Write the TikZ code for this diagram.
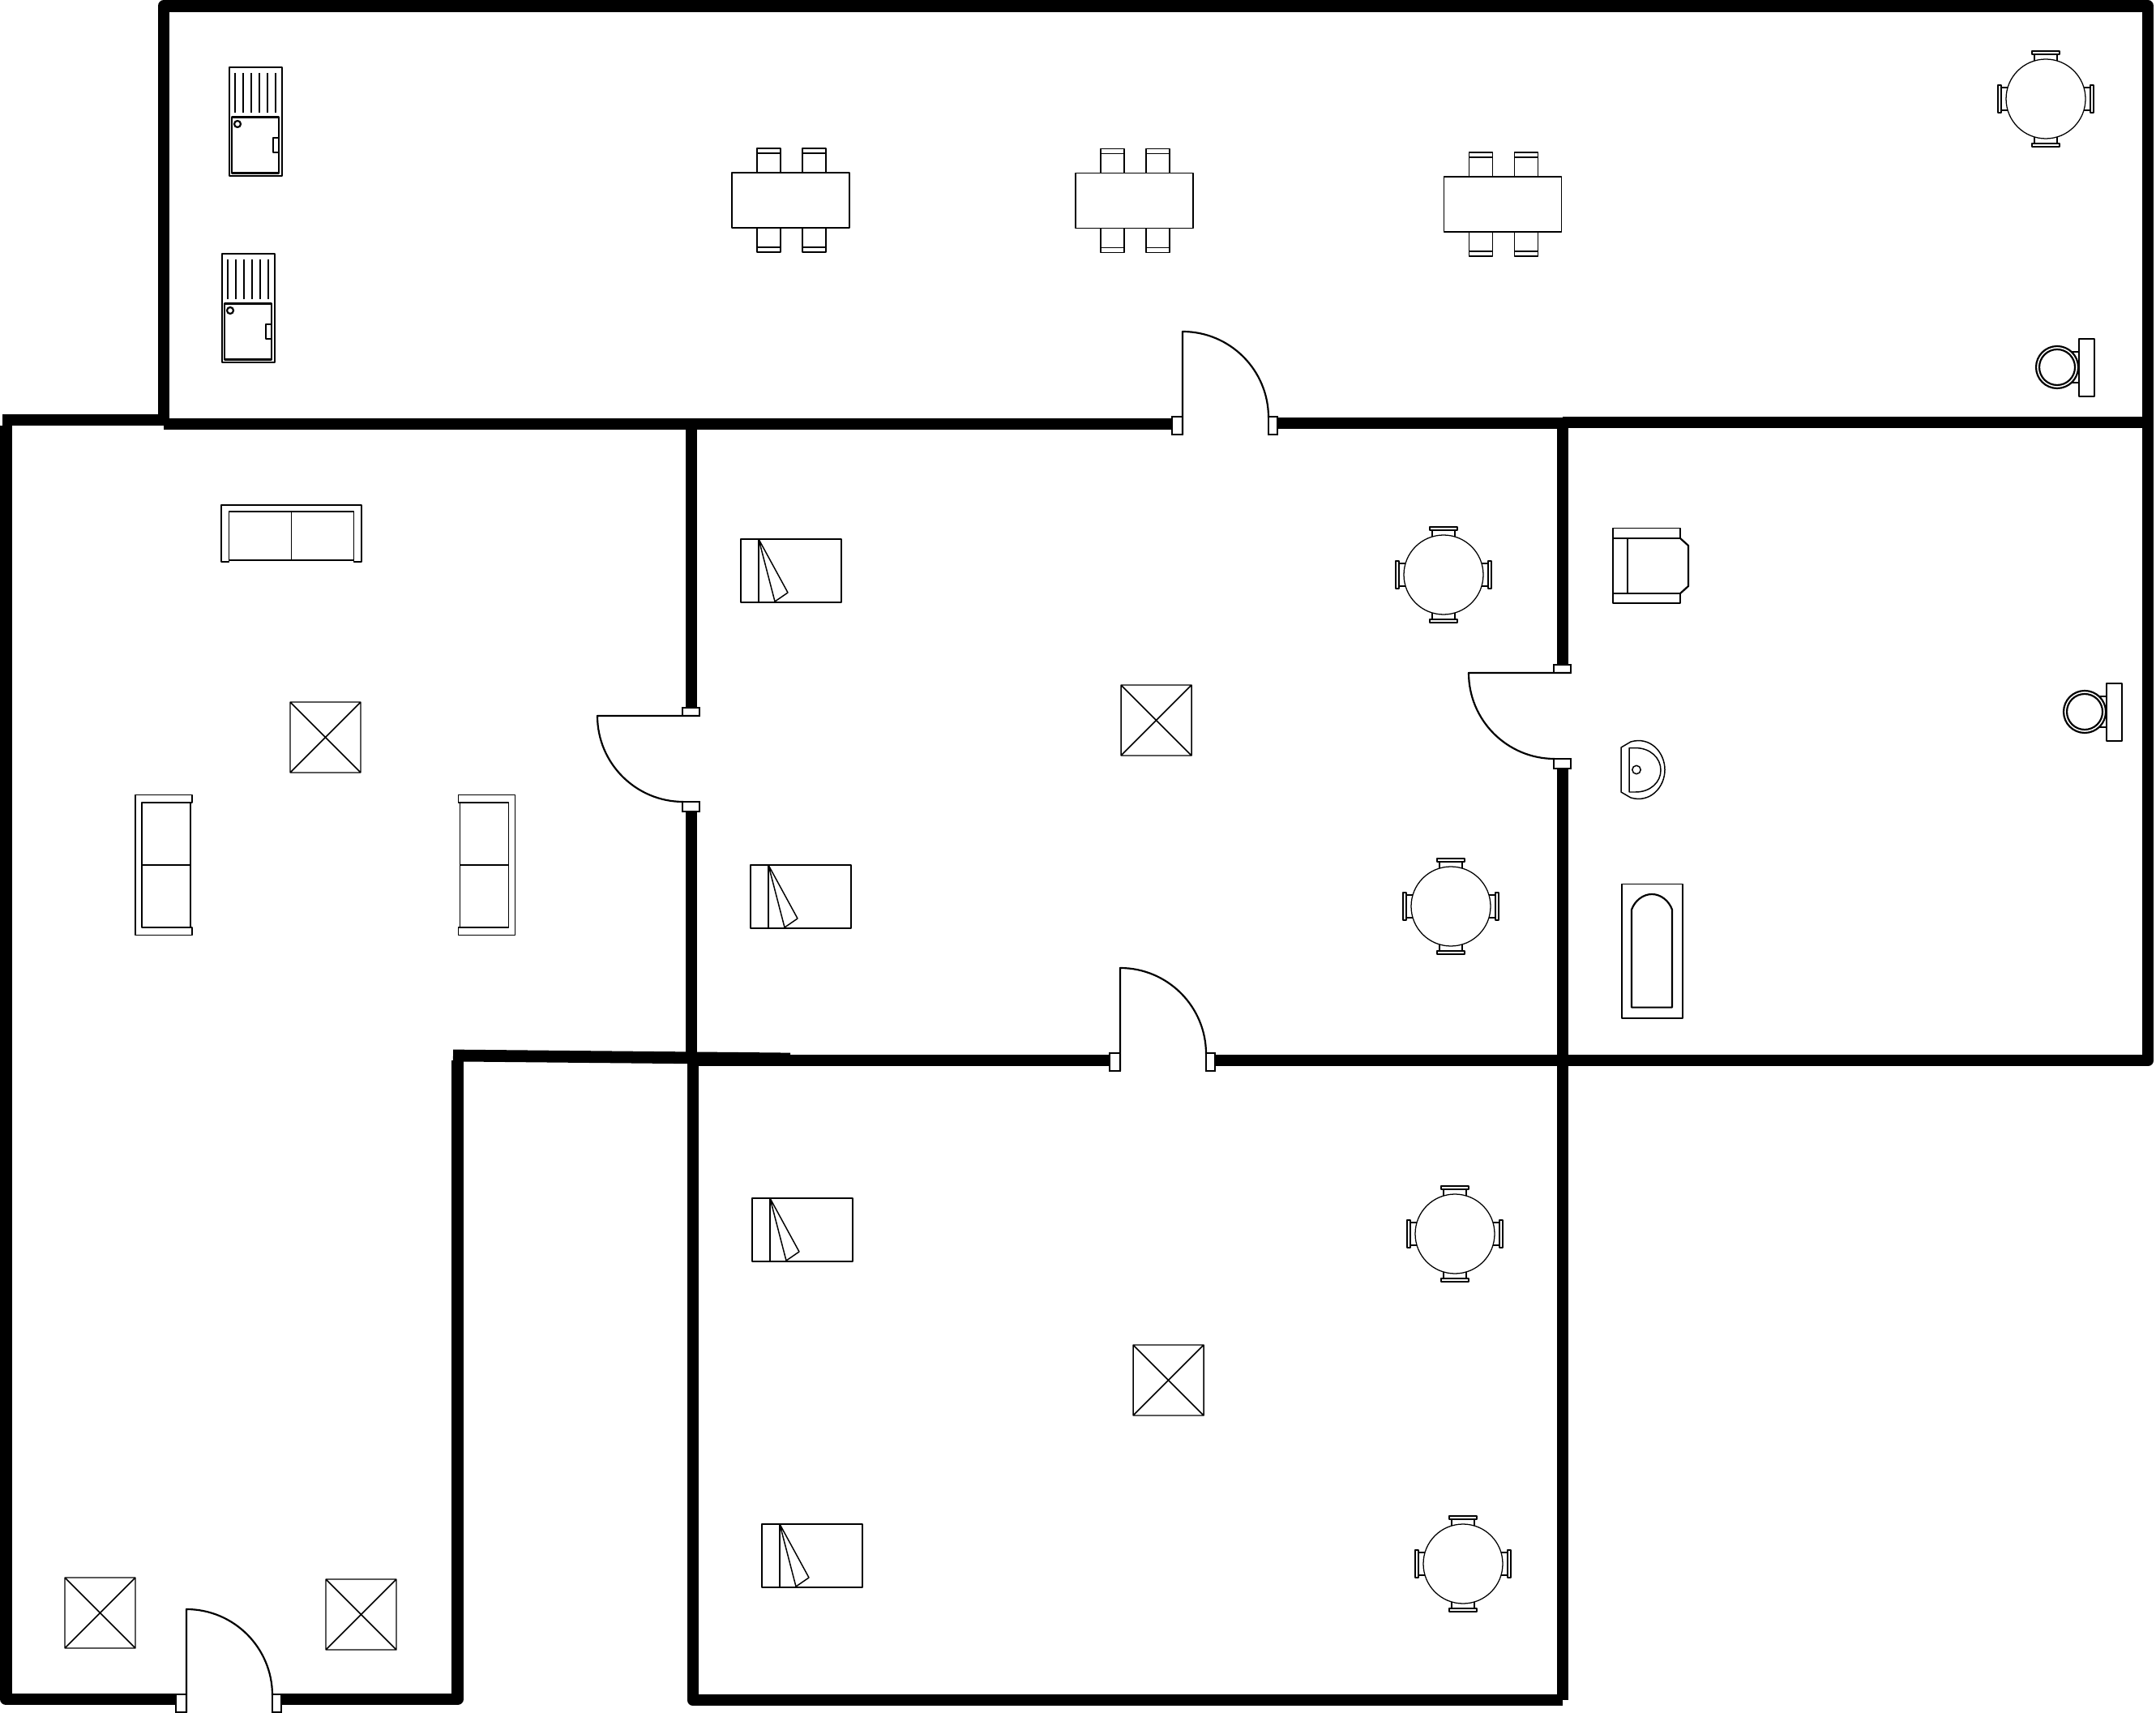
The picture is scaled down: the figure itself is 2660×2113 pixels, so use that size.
\documentclass[tikz,border=0pt]{standalone}
\tikzset{
  wall/.style={line width=4.2pt,line join=round,black},
  thinl/.style={line width=0.42pt,line join=round,black},
  medl/.style={line width=0.62pt,line join=round,black},
  heavyl/.style={line width=0.85pt,line join=round,black},
  jamb/.style={line width=0.7pt,draw=black,fill=white},
  pics/xbox/.style={code={
    \draw[thinl] (0,0) rectangle (87,87) (0,0) -- (87,87) (87,0) -- (0,87);
  }},
  pics/sofa/.style={code={
    \draw[thinl] (-77,33) -- (-77,35) -- (-86.5,35) -- (-86.5,-35) -- (86.5,-35) -- (86.5,35) -- (77,35) -- (77,33);
    \draw[thinl] (-77,-27) rectangle (77,33) (0,-27) -- (0,33);
  }},
  pics/bed/.style={code={
    \draw[thinl] (0,0) rectangle (124,78) (22,0) -- (22,78);
    \draw[thinl] (22,0) -- (58,66) -- (42,77) -- cycle;
  }},
  pics/dtable/.style={code={
    \draw[thinl] (-72.5,-34) rectangle (72.5,34);
    \foreach \cx in {-41.5,14.5} {
      \draw[thinl] (\cx,-34) -- (\cx,-64) -- (\cx+29,-64) -- (\cx+29,-34) (\cx,-58) -- (\cx+29,-58);
      \draw[thinl] (\cx,34) -- (\cx,64) -- (\cx+29,64) -- (\cx+29,34) (\cx,58) -- (\cx+29,58);
    }
  }},
  pics/rtable/.style={code={
    \draw[line width=0.36pt] (0,0) circle[radius=49];
    \foreach \r in {0,90,180,270} {
      \begin{scope}[rotate=\r]
        \draw[thinl] (-17,-59) rectangle (17,-55);
        \draw[thinl] (-14,-55) -- (-14,-47) (14,-55) -- (14,-47);
      \end{scope}
    }
  }},
  pics/toilet/.style={code={
    \draw[thinl] (27,-35) rectangle (46,36);
    \draw[thinl] (17,-19) -- (27,-19) (17,19) -- (27,19);
    \draw[medl] (0,0) circle[radius=26];
    \draw[medl] (0,0) circle[radius=22];
  }},
  pics/washer/.style={code={
    \draw[thinl] (0,0) rectangle (65,134);
    \foreach \lx in {7,17,27,37,47,57} {\draw[thinl] (\lx,7) -- (\lx,56);}
    \draw[heavyl] (3,62) rectangle (61,131);
    \draw[medl] (10,70) circle[radius=4];
    \draw[medl] (54,87) rectangle (61,105);
  }},
  pics/hdoor/.style={code={
    \draw[jamb] (-13,-1) rectangle (0,21);
    \draw[jamb] (106,-1) rectangle (117,21);
    \draw[medl] (0,21) -- (0,-106) .. controls (58.5,-106) and (106,-58.5) .. (106,0);
  }},
  pics/vdoor/.style={code={
    \draw[jamb] (-1,-10) rectangle (20,0);
    \draw[jamb] (-1,106) rectangle (20,118);
    \draw[medl] (20,0) -- (-106,0) .. controls (-106,58.5) and (-58.5,106) .. (0,106);
  }}
}
\begin{document}
\begin{tikzpicture}[x=0.01cm,y=-0.01cm]
\useasboundingbox (0,0) rectangle (2660,2113);
% walls
\draw[wall] (202,523) -- (202,7.5) -- (2650,7.5) -- (2650,1308) -- (1499,1308);
\draw[wall] (202,523) -- (1449,523);
\draw[wall] (1577,522) -- (1928,522);
\draw[wall] (1928,521) -- (2650,521);
\draw[wall] (3,518) -- (202,518);
\draw[wall] (7.5,525) -- (7.5,2096) -- (217,2096);
\draw[wall] (347,2096) -- (564.5,2096) -- (564.5,1308);
\draw[wall] (559,1302) -- (975,1306);
\draw[wall] (853,523) -- (853,872);
\draw[wall] (853,1000) -- (853,1308);
\draw[wall] (855,1305) -- (855,2097) -- (1928,2097);
\draw[wall] (1928,521) -- (1928,819);
\draw[wall] (1928,947) -- (1928,2097);
\draw[wall] (860,1308) -- (1371,1308);
% doors
\pic at (230,2091) {hdoor};
\pic at (1459,515) {hdoor};
\pic at (1382,1300) {hdoor};
\pic at (843,883) {vdoor};
\pic at (1918,830) {vdoor};
% ceiling boxes
\pic at (358,866) {xbox};
\pic at (1383,845) {xbox};
\pic at (1398,1659) {xbox};
\pic at (80,1946) {xbox};
\pic at (402,1948) {xbox};
% sofas
\pic at (359.5,658) {sofa};
\pic[rotate=90] at (202,1067) {sofa};
\pic[rotate=-90] at (600.5,1067) {sofa};
% beds
\pic at (914,665) {bed};
\pic at (926,1067) {bed};
\pic at (928,1478) {bed};
\pic at (940,1880) {bed};
% dining tables
\pic at (975.5,247) {dtable};
\pic at (1399.5,247.7) {dtable};
\pic at (1854,252) {dtable};
% round tables
\pic at (2524,122) {rtable};
\pic at (1781,709) {rtable};
\pic at (1790,1118) {rtable};
\pic at (1795,1522) {rtable};
\pic at (1805,1929) {rtable};
% toilets
\pic at (2538,453) {toilet};
\pic at (2572,878) {toilet};
% washers
\pic at (283,83) {washer};
\pic at (274,313) {washer};
% armchair
\draw[thinl] (1990,651.5) rectangle (2073,664);
\draw[thinl] (1990,732) rectangle (2073,744);
\draw[thinl] (1990,664) -- (1990,732);
\draw[medl] (2008,664) -- (2008,732);
\draw[medl] (2073,664) -- (2083,673) -- (2083,723) -- (2073,732);
% sink
\draw[thinl] (2000,922) -- (2012,915) .. controls (2036,908) and (2054,928) .. (2054,949.5) .. controls (2054,971) and (2036,991) .. (2012,984) -- (2000,977) -- cycle;
\draw[thinl] (2010,922.6) -- (2018,922.6) .. controls (2036,922.6) and (2049,935) .. (2049,950) .. controls (2049,965) and (2036,977) .. (2018,977) -- (2010,977) -- cycle;
\draw[thinl] (2019,949.5) circle[radius=5.2];
% bath
\draw[thinl] (2001,1090.5) rectangle (2076,1256);
\draw[medl] (2013,1242.6) -- (2013,1122) .. controls (2017,1111) and (2027,1103) .. (2038,1103) .. controls (2049,1103) and (2059,1111) .. (2063,1122) -- (2063,1242.6) -- cycle;
\end{tikzpicture}
\end{document}
